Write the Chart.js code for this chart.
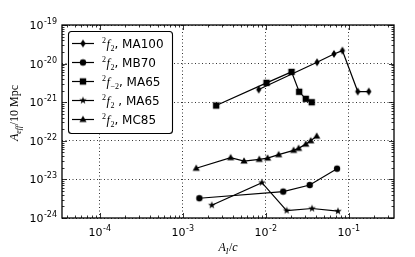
<!DOCTYPE html>
<html>
<head>
<meta charset="utf-8">
<script src="https://cdn.jsdelivr.net/npm/chart.js@4.4.0/dist/chart.umd.min.js"></script>
<style>
  html, body { margin: 0; padding: 0; background: #fff; }
</style>
</head>
<body>
<canvas id="chart" width="415" height="257"></canvas>
<script>
// data (x = A_I/c, y = A_eff/10 Mpc)
const ma100X = [0.0082, 0.0414, 0.0662, 0.0836, 0.128, 0.174];
const ma100Y = [2.13e-21, 1.08e-20, 1.78e-20, 2.17e-20, 1.89e-21, 1.89e-21];
const mb70X = [0.00158, 0.0162, 0.0338, 0.072];
const mb70Y = [3.25e-24, 4.84e-24, 7.16e-24, 1.9e-23];
const ma65mX = [0.00252, 0.0102, 0.0204, 0.0252, 0.0303, 0.0357];
const ma65mY = [8.2e-22, 3.17e-21, 6.1e-21, 1.86e-21, 1.22e-21, 1.0e-21];
const ma65X = [0.00223, 0.00897, 0.0178, 0.036, 0.074];
const ma65Y = [2.14e-24, 8.26e-24, 1.56e-24, 1.76e-24, 1.5e-24];
const mc85X = [0.00145, 0.00377, 0.00546, 0.00834, 0.0105, 0.01426, 0.0216, 0.0248, 0.0303, 0.0347, 0.041];
const mc85Y = [1.94e-23, 3.66e-23, 2.99e-23, 3.31e-23, 3.57e-23, 4.37e-23, 5.65e-23, 6.37e-23, 8.2e-23, 1.0e-22, 1.32e-22];

const legendSub = ['2', '2', '\u22122', '2', '2'];
const legendName = [', MA100', ', MB70', ', MA65', ' , MA65', ', MC85'];

const xTicks = [1e-4, 1e-3, 1e-2, 1e-1];
const yTicks = [1e-24, 1e-23, 1e-22, 1e-21, 1e-20, 1e-19];
const xRange = [3.5e-5, 0.35];
const yRange = [1e-24, 1e-19];

const BASE_FONT = '11px "DejaVu Sans"';
const EXP_FONT = '8px "DejaVu Sans"';

function expText(v){
  return String(Math.round(Math.log10(v)));
}

// matplotlib-like filled markers
function marker(kind){
  const s = 12, m = s / 2;
  const c = document.createElement('canvas');
  c.width = c.height = s;
  const g = c.getContext('2d');
  g.fillStyle = '#000';
  g.beginPath();
  if (kind === 'diamond') {
    g.moveTo(m, m - 4); g.lineTo(m + 2.6, m); g.lineTo(m, m + 4); g.lineTo(m - 2.6, m);
  } else if (kind === 'circle') {
    g.arc(m, m, 3.2, 0, Math.PI * 2);
  } else if (kind === 'square') {
    g.rect(m - 3.2, m - 3.2, 6.4, 6.4);
  } else if (kind === 'triangle') {
    g.moveTo(m, m - 3.8); g.lineTo(m + 3.6, m + 2.6); g.lineTo(m - 3.6, m + 2.6);
  } else if (kind === 'star') {
    for (let i = 0; i < 10; i++) {
      const r = i % 2 ? 1.6 : 4;
      const a = -Math.PI / 2 + i * Math.PI / 5;
      const px = m + r * Math.cos(a), py = m + r * Math.sin(a);
      i ? g.lineTo(px, py) : g.moveTo(px, py);
    }
  }
  g.closePath();
  g.fill();
  return c;
}

const markers = ['diamond', 'circle', 'square', 'star', 'triangle'].map(marker);
const seriesX = [ma100X, mb70X, ma65mX, ma65X, mc85X];
const seriesY = [ma100Y, mb70Y, ma65mY, ma65Y, mc85Y];

const datasets = seriesX.map((xs, i) => ({
  data: xs.map((x, j) => ({ x: x, y: seriesY[i][j] })),
  borderColor: '#000',
  backgroundColor: '#000',
  borderWidth: 1.2,
  pointStyle: markers[i],
  pointRadius: 4,
  tension: 0,
  fill: false
}));

function drawPieces(ctx, pieces, x, y){
  // pieces: [text, font, dy, gap]
  pieces.forEach(p => {
    ctx.font = p[1];
    ctx.fillText(p[0], x, y + p[2]);
    x += ctx.measureText(p[0]).width + (p[3] || 0);
  });
  return x;
}
function piecesWidth(ctx, pieces){
  let w = 0;
  pieces.forEach(p => { ctx.font = p[1]; w += ctx.measureText(p[0]).width + (p[3] || 0); });
  return w;
}
function powPieces(v){
  return [['10', BASE_FONT, 0, 0.5], [expText(v), EXP_FONT, -5, 0]];
}

const decor = {
  id: 'decor',
  afterDraw(chart){
    const ctx = chart.ctx;
    const a = chart.chartArea;
    const xs = chart.scales.x, ys = chart.scales.y;
    ctx.save();
    ctx.strokeStyle = '#000';
    ctx.fillStyle = '#000';

    // inward ticks on all four sides
    ctx.lineWidth = 0.8;
    ctx.beginPath();
    for (let d = -5; d <= 0; d++) {
      for (let k = 1; k <= 9; k++) {
        const v = k * Math.pow(10, d);
        if (v < xRange[0] || v > xRange[1]) continue;
        const px = Math.round(xs.getPixelForValue(v)) + 0.5;
        const len = k === 1 ? 5 : 2.5;
        ctx.moveTo(px, a.bottom); ctx.lineTo(px, a.bottom - len);
        ctx.moveTo(px, a.top); ctx.lineTo(px, a.top + len);
      }
    }
    for (let d = -24; d <= -19; d++) {
      for (let k = 1; k <= 9; k++) {
        const v = k * Math.pow(10, d);
        if (v < yRange[0] * 0.999 || v > yRange[1] * 1.001) continue;
        const py = Math.round(ys.getPixelForValue(v)) + 0.5;
        const len = k === 1 ? 5 : 2.5;
        ctx.moveTo(a.left, py); ctx.lineTo(a.left + len, py);
        ctx.moveTo(a.right, py); ctx.lineTo(a.right - len, py);
      }
    }
    ctx.stroke();

    // frame
    ctx.lineWidth = 1.3;
    ctx.strokeRect(a.left, a.top, a.right - a.left, a.bottom - a.top);

    // tick labels 10^n
    ctx.textAlign = 'left';
    ctx.textBaseline = 'alphabetic';
    xTicks.forEach(v => {
      const p = powPieces(v);
      const px = xs.getPixelForValue(v);
      drawPieces(ctx, p, px - piecesWidth(ctx, p) / 2, a.bottom + 18);
    });
    yTicks.forEach(v => {
      const p = powPieces(v);
      const py = ys.getPixelForValue(v);
      drawPieces(ctx, p, a.left - 5 - piecesWidth(ctx, p), py + 4);
    });

    // legend box
    const lx = 68, ly = 31, lw = 104, lh = 102;
    ctx.beginPath();
    ctx.roundRect(lx + 0.5, ly + 0.5, lw, lh, 3);
    ctx.fillStyle = '#fff';
    ctx.fill();
    ctx.lineWidth = 1.1;
    ctx.stroke();
    ctx.fillStyle = '#000';
    legendName.forEach((name, i) => {
      const y = 43.5 + i * 19;
      ctx.lineWidth = 1.2;
      ctx.beginPath();
      ctx.moveTo(72, y); ctx.lineTo(94, y);
      ctx.stroke();
      ctx.drawImage(markers[i], 83 - 6, y - 6);
      drawPieces(ctx, [
        ['2', '8px "Liberation Serif"', -1, 0.5],
        ['f', 'italic 12.5px "Liberation Serif"', 4, 0.5],
        [legendSub[i], '8px "Liberation Serif"', 7, 0],
        [name, '12px "DejaVu Sans"', 4, 0]
      ], 102, y);
    });

    // x axis title: A_I/c
    const xt = [
      ['A', 'italic 12px "Liberation Serif"', 0, 0],
      ['I', 'italic 8px "Liberation Serif"', 3, 0.5],
      ['/', '12px "Liberation Serif"', 0, 0],
      ['c', 'italic 12px "Liberation Serif"', 0, 0]
    ];
    const cx = (a.left + a.right) / 2;
    drawPieces(ctx, xt, cx - piecesWidth(ctx, xt) / 2, 251);

    // y axis title: A_eff/10 Mpc
    const yt = [
      ['A', 'italic 12px "Liberation Serif"', 0, 0],
      ['eff', 'italic 8px "Liberation Serif"', 3, 0.5],
      ['/10 Mpc', '12px "Liberation Serif"', 0, 0]
    ];
    ctx.translate(18, 113);
    ctx.rotate(-Math.PI / 2);
    drawPieces(ctx, yt, -piecesWidth(ctx, yt) / 2, 0);
    ctx.restore();
  }
};

new Chart(document.getElementById('chart'), {
  type: 'line',
  data: { datasets },
  options: {
    responsive: false,
    animation: false,
    layout: { padding: { top: 25, right: 21, left: 0, bottom: 0 } },
    plugins: { legend: { display: false }, tooltip: { enabled: false } },
    scales: {
      x: {
        type: 'logarithmic',
        min: xRange[0], max: xRange[1],
        afterBuildTicks: s => { s.ticks = xTicks.map(v => ({ value: v })); },
        afterFit: s => { s.height = 39; },
        grid: { color: '#000', lineWidth: 0.8, drawTicks: false },
        border: { display: false, dash: [1, 2.5] },
        ticks: { display: false }
      },
      y: {
        type: 'logarithmic',
        min: yRange[0], max: yRange[1],
        afterBuildTicks: s => { s.ticks = yTicks.map(v => ({ value: v })); },
        afterFit: s => { s.width = 62; },
        grid: { color: '#000', lineWidth: 0.8, drawTicks: false },
        border: { display: false, dash: [1, 2.5] },
        ticks: { display: false }
      }
    }
  },
  plugins: [decor]
});
</script>
</body>
</html>
